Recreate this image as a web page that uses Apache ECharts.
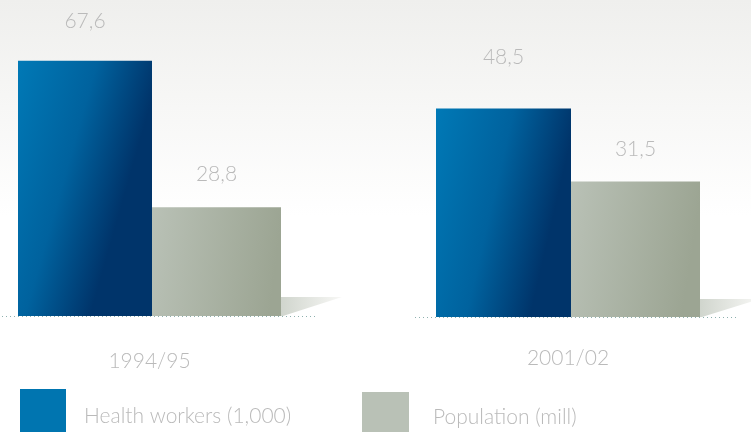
<!DOCTYPE html>
<html>
<head>
<meta charset="utf-8">
<script src="https://cdn.jsdelivr.net/npm/echarts@6/dist/echarts.min.js"></script>
<style>
  html, body { margin: 0; padding: 0; }
  #chart { width: 751px; height: 432px; }
</style>
</head>
<body>
<div id="chart"></div>
<script>
  var periods = ['1994/95', '2001/02']
  var healthWorkers = [67.6, 48.5]
  var population = [28.8, 31.5]
  var seriesNames = ['Health workers (1,000)', 'Population (mill)']

  var FONT = 'Lato'
  var TXT = '#bababa'

  // each period is drawn in its own little grid (the original uses different scales)
  var grids = [
    {left: 18, width: 263, top: 14, height: 302, max: 80, labelMargin: 35},
    {left: 436, width: 264, top: 16, height: 301, max: 70, labelMargin: 31}
  ]
  var blueDist = [29, 41]
  var greyDist = [23, 22]
  var blueWidth = [134, 135]

  var blueFill = new echarts.graphic.LinearGradient(0, 0, 1, 0.15, [
    {offset: 0, color: '#0079b6'},
    {offset: 0.55, color: '#00629e'},
    {offset: 1, color: '#00346a'}
  ])
  var greyFill = new echarts.graphic.LinearGradient(0, 0, 1, 0.15, [
    {offset: 0, color: '#b9c1b6'},
    {offset: 1, color: '#9ca593'}
  ])

  function fmt (p) {
    return String(p.value).replace('.', ',')
  }

  var series = []
  for (var i = 0; i < periods.length; i++) {
    series.push({
      name: seriesNames[0],
      type: 'bar',
      xAxisIndex: i,
      yAxisIndex: i,
      barWidth: blueWidth[i],
      barGap: 0,
      itemStyle: {color: blueFill},
      label: {show: true, position: 'top', distance: blueDist[i], formatter: fmt,
        color: TXT, fontSize: 21, fontFamily: FONT, fontWeight: 300},
      data: [healthWorkers[i]]
    })
    series.push({
      name: seriesNames[1],
      type: 'bar',
      xAxisIndex: i,
      yAxisIndex: i,
      barWidth: 129,
      barGap: 0,
      itemStyle: {color: greyFill},
      label: {show: true, position: 'top', distance: greyDist[i], formatter: fmt,
        color: TXT, fontSize: 21, fontFamily: FONT, fontWeight: 300},
      data: [population[i]]
    })
  }

  var shadowFill = function () {
    return new echarts.graphic.LinearGradient(0, 0, 1, 0, [
      {offset: 0, color: '#d0d5cd'}, {offset: 1, color: '#f8f8f6'}])
  }

  var chart = echarts.init(document.getElementById('chart'))
  chart.setOption({
    animation: false,
    backgroundColor: new echarts.graphic.LinearGradient(0, 0, 0, 1, [
      {offset: 0, color: '#efefed'},
      {offset: 0.5, color: '#ffffff'},
      {offset: 1, color: '#ffffff'}
    ]),
    grid: grids.map(function (g) {
      return {left: g.left, width: g.width, top: g.top, height: g.height, containLabel: false}
    }),
    xAxis: grids.map(function (g, i) {
      return {
        type: 'category',
        gridIndex: i,
        data: [periods[i]],
        axisLine: {show: false},
        axisTick: {show: false},
        axisLabel: {margin: g.labelMargin, color: TXT, fontSize: 21, fontFamily: FONT, fontWeight: 300}
      }
    }),
    yAxis: grids.map(function (g, i) {
      return {type: 'value', gridIndex: i, min: 0, max: g.max, show: false, splitLine: {show: false}}
    }),
    legend: [
      {data: [{name: seriesNames[0], itemStyle: {color: '#0075b0'}}], left: 15, top: 384,
        icon: 'rect', itemWidth: 46, itemHeight: 54, selectedMode: false,
        textStyle: {color: TXT, fontSize: 21, fontFamily: FONT, fontWeight: 300, padding: [0, 0, 0, 13]}},
      {data: [{name: seriesNames[1], itemStyle: {color: '#b9c1b6'}}], left: 357, top: 387,
        icon: 'rect', itemWidth: 47, itemHeight: 50, selectedMode: false,
        textStyle: {color: TXT, fontSize: 21, fontFamily: FONT, fontWeight: 300, padding: [0, 0, 0, 19]}}
    ],
    graphic: [
      // floor shadows
      {type: 'polygon', z: -1, shape: {points: [[281, 297], [342, 297], [283, 316], [281, 316]]},
        style: {fill: shadowFill()}},
      {type: 'polygon', z: -1, shape: {points: [[700, 299], [760, 299], [702, 317], [700, 317]]},
        style: {fill: shadowFill()}},
      // dotted baselines
      {type: 'line', shape: {x1: 2, y1: 316.5, x2: 316, y2: 316.5},
        style: {stroke: '#8eb0ae', lineWidth: 1, lineDash: [1, 3]}},
      {type: 'line', shape: {x1: 415, y1: 317.5, x2: 738, y2: 317.5},
        style: {stroke: '#8eb0ae', lineWidth: 1, lineDash: [1, 3]}}
    ],
    series: series
  })
</script>
</body>
</html>
